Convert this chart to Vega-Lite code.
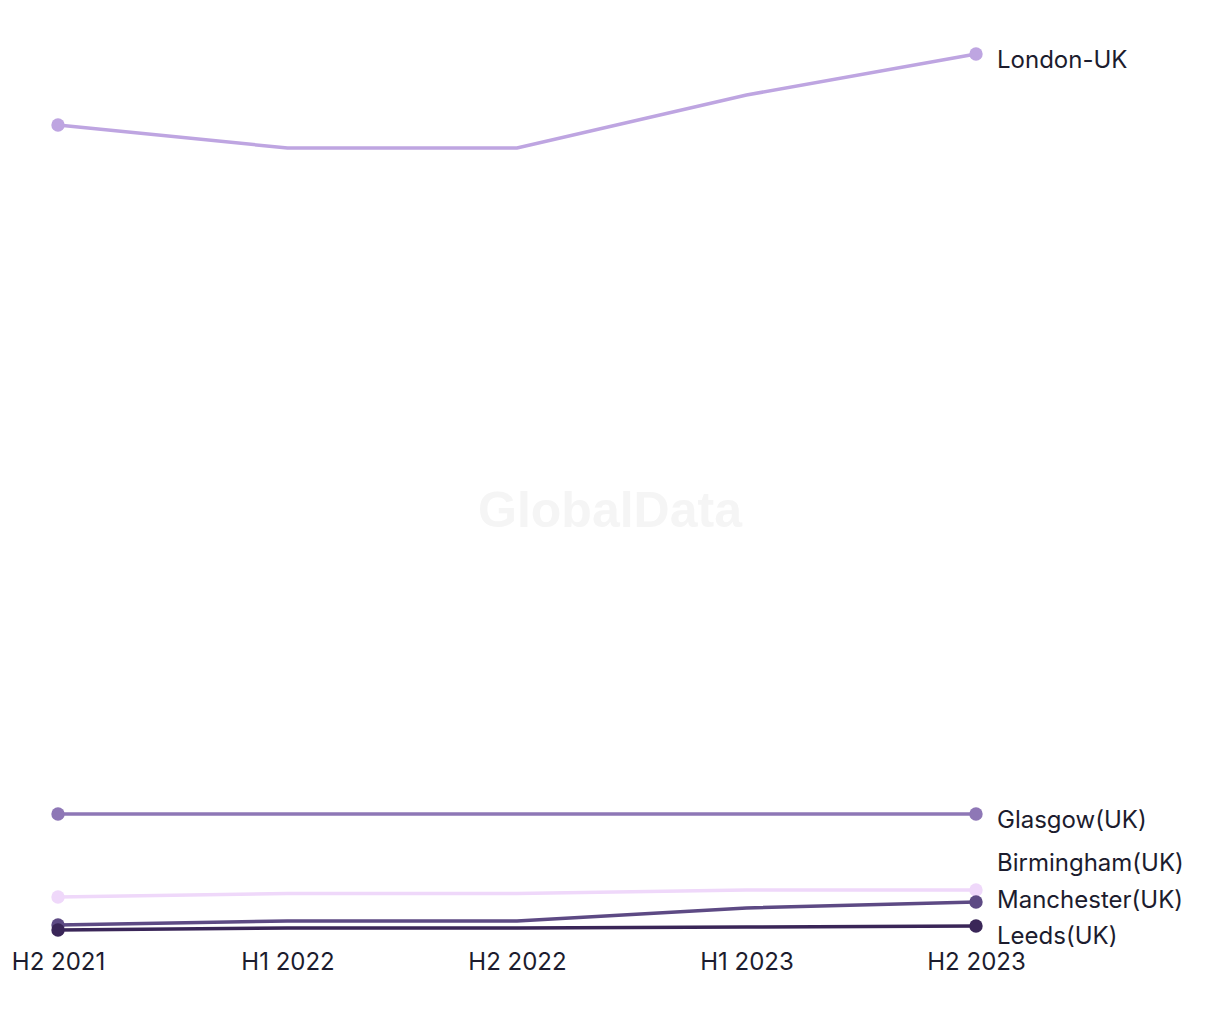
{
  "$schema": "https://vega.github.io/schema/vega-lite/v6.json",
  "autosize": "none",
  "padding": {"left": 58, "top": 20, "right": 244, "bottom": 85},
  "width": 918,
  "height": 915,
  "background": "white",
  "config": {"view": {"stroke": null}, "font": "Inter"},
  "data": {"values": [
    {"period": "H2 2021", "city": "London-UK", "value": 810},
    {"period": "H1 2022", "city": "London-UK", "value": 787},
    {"period": "H2 2022", "city": "London-UK", "value": 787},
    {"period": "H1 2023", "city": "London-UK", "value": 840},
    {"period": "H2 2023", "city": "London-UK", "value": 881},
    {"period": "H2 2021", "city": "Glasgow(UK)", "value": 121},
    {"period": "H1 2022", "city": "Glasgow(UK)", "value": 121},
    {"period": "H2 2022", "city": "Glasgow(UK)", "value": 121},
    {"period": "H1 2023", "city": "Glasgow(UK)", "value": 121},
    {"period": "H2 2023", "city": "Glasgow(UK)", "value": 121},
    {"period": "H2 2021", "city": "Birmingham(UK)", "value": 38},
    {"period": "H1 2022", "city": "Birmingham(UK)", "value": 41.5},
    {"period": "H2 2022", "city": "Birmingham(UK)", "value": 41.5},
    {"period": "H1 2023", "city": "Birmingham(UK)", "value": 45},
    {"period": "H2 2023", "city": "Birmingham(UK)", "value": 45},
    {"period": "H2 2021", "city": "Manchester(UK)", "value": 10},
    {"period": "H1 2022", "city": "Manchester(UK)", "value": 14},
    {"period": "H2 2022", "city": "Manchester(UK)", "value": 14},
    {"period": "H1 2023", "city": "Manchester(UK)", "value": 27},
    {"period": "H2 2023", "city": "Manchester(UK)", "value": 33},
    {"period": "H2 2021", "city": "Leeds(UK)", "value": 5},
    {"period": "H1 2022", "city": "Leeds(UK)", "value": 7},
    {"period": "H2 2022", "city": "Leeds(UK)", "value": 7},
    {"period": "H1 2023", "city": "Leeds(UK)", "value": 8},
    {"period": "H2 2023", "city": "Leeds(UK)", "value": 9}
  ]},
  "encoding": {
    "x": {"field": "period", "type": "ordinal", "sort": ["H2 2021", "H1 2022", "H2 2022", "H1 2023", "H2 2023"],
      "scale": {"type": "point", "padding": 0},
      "axis": {"title": null, "labelAngle": 0, "ticks": false, "domain": false, "grid": false, "labelFontSize": 24, "labelColor": "#1c1c2e", "labelPadding": 15, "labelFont": "Inter"}},
    "y": {"field": "value", "type": "quantitative", "scale": {"domain": [0, 915], "nice": false, "zero": true}, "axis": null},
    "color": {"field": "city", "type": "nominal", "legend": null,
      "scale": {"domain": ["London-UK", "Glasgow(UK)", "Birmingham(UK)", "Manchester(UK)", "Leeds(UK)"],
        "range": ["#bea5e1", "#8e77b6", "#efd8fa", "#5d4a84", "#3a2658"]}}
  },
  "layer": [
    {"mark": {"type": "text", "text": "GlobalData", "x": 552, "y": 492, "fontSize": 50, "fontWeight": "bold", "font": "Liberation Sans", "color": "#f5f5f5", "align": "center", "baseline": "middle"}, "encoding": {"x": null, "y": null, "color": null}, "data": {"values": [{"a": 1}]}},
    {"mark": {"type": "line", "strokeWidth": 3.5}, "encoding": {"detail": {"field": "city"}}},
    {"transform": [{"filter": "datum.period === 'H2 2021' || datum.period === 'H2 2023'"}], "mark": {"type": "circle", "size": 180, "opacity": 1}},
    {"transform": [{"filter": "datum.period === 'H2 2023' && (datum.city === 'London-UK' || datum.city === 'Glasgow(UK)')"}],
      "mark": {"type": "text", "align": "left", "baseline": "middle", "dx": 21, "dy": 7, "fontSize": 24, "color": "#1c1c2e", "font": "Inter"},
      "encoding": {"text": {"field": "city"}, "color": null}},
    {"transform": [{"filter": "datum.period === 'H2 2023' && datum.city === 'Birmingham(UK)'"}],
      "mark": {"type": "text", "align": "left", "baseline": "middle", "dx": 21, "dy": -26, "fontSize": 24, "color": "#1c1c2e", "font": "Inter"},
      "encoding": {"text": {"field": "city"}, "color": null}},
    {"transform": [{"filter": "datum.period === 'H2 2023' && datum.city === 'Manchester(UK)'"}],
      "mark": {"type": "text", "align": "left", "baseline": "middle", "dx": 21, "dy": -1, "fontSize": 24, "color": "#1c1c2e", "font": "Inter"},
      "encoding": {"text": {"field": "city"}, "color": null}},
    {"transform": [{"filter": "datum.period === 'H2 2023' && datum.city === 'Leeds(UK)'"}],
      "mark": {"type": "text", "align": "left", "baseline": "middle", "dx": 21, "dy": 11, "fontSize": 24, "color": "#1c1c2e", "font": "Inter"},
      "encoding": {"text": {"field": "city"}, "color": null}}
  ]
}
